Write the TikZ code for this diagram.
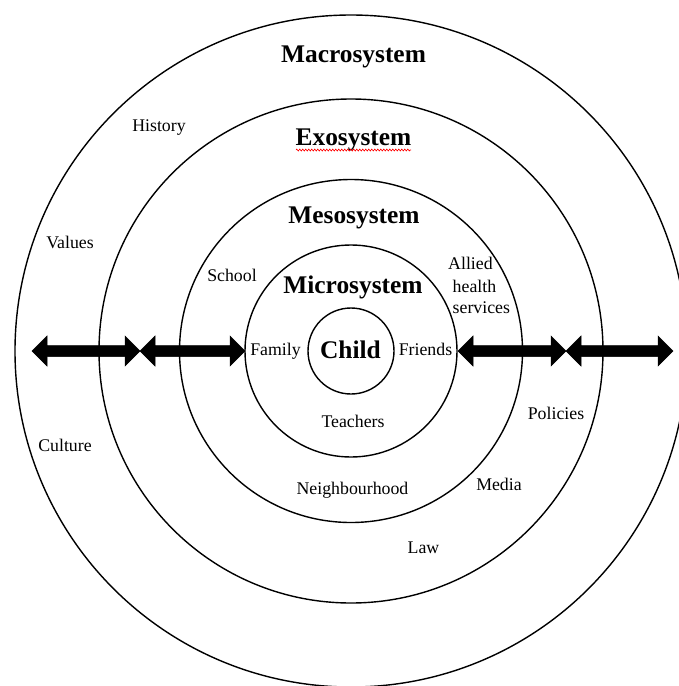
\documentclass[tikz,border=0pt]{standalone}
\usepackage{fontspec}
\setmainfont{Liberation Serif}
\usetikzlibrary{decorations.pathmorphing}
\begin{document}
\begin{tikzpicture}[x=1pt,y=-1pt,
  ring/.style={draw=black,line width=1.4pt},
  title/.style={anchor=base,inner sep=0pt,font=\fontsize{25.4}{28}\selectfont\bfseries},
  lbl/.style={anchor=base,inner sep=0pt,font=\fontsize{17.8}{21}\selectfont},
  blockarrow/.style={fill=black,draw=black,line width=0.5pt,line join=miter}]
\useasboundingbox (0,0) rectangle (679,686);
\fill[white] (0,0) rectangle (679,686);
\coordinate (c) at (351,351);
% rings
\draw[ring] (c) circle[radius=336pt];
\draw[ring] (c) circle[radius=252pt];
\draw[ring] (c) circle[radius=171.5pt];
\draw[ring] (c) circle[radius=106pt];
\draw[ring] (c) circle[radius=43pt];
% double block arrows
\newcommand\dblarrow[2]{%
  \filldraw[blockarrow] (#1,351) -- ({#1+15},336) -- ({#1+15},345.5) -- ({#2-15},345.5)
    -- ({#2-15},336) -- (#2,351) -- ({#2-15},366) -- ({#2-15},356.5)
    -- ({#1+15},356.5) -- ({#1+15},366) -- cycle;}
\dblarrow{32}{140}
\dblarrow{140}{245}
\dblarrow{458}{566}
\dblarrow{566}{673}
% titles
\node[title] (macro) at (353.5,62) {Macrosystem};
\node[title] (exo) at (353.5,145) {Exosystem};
\node[title] (meso) at (354,223) {Mesosystem};
\node[title] (micro) at (353,293) {Microsystem};
\node[title] (child) at (350.5,358) {Child};
% spell-check squiggle
\draw[red,line width=0.6pt,decorate,decoration={zigzag,amplitude=1pt,segment length=3pt}]
  (296,150) -- (411,150);
% labels
\node[lbl] (family) at (275.5,355) {Family};
\node[lbl] (friends) at (425.5,355) {Friends};
\node[lbl] (history) at (159,131.5) {History};
\node[lbl] (values) at (70,248.5) {Values};
\node[lbl] (school) at (232,281.5) {School};
\node[lbl,anchor=base west] (allied) at (448,269) {Allied};
\node[lbl,anchor=base west] (health) at (452.5,292) {health};
\node[lbl,anchor=base west] (services) at (452.5,313) {services};
\node[lbl] (teachers) at (353,427) {Teachers};
\node[lbl] (neigh) at (352.5,494) {Neighbourhood};
\node[lbl] (media) at (499,490) {Media};
\node[lbl] (policies) at (556,419) {Policies};
\node[lbl] (culture) at (65,451) {Culture};
\node[lbl] (law) at (423.5,553) {Law};
\end{tikzpicture}
\end{document}
